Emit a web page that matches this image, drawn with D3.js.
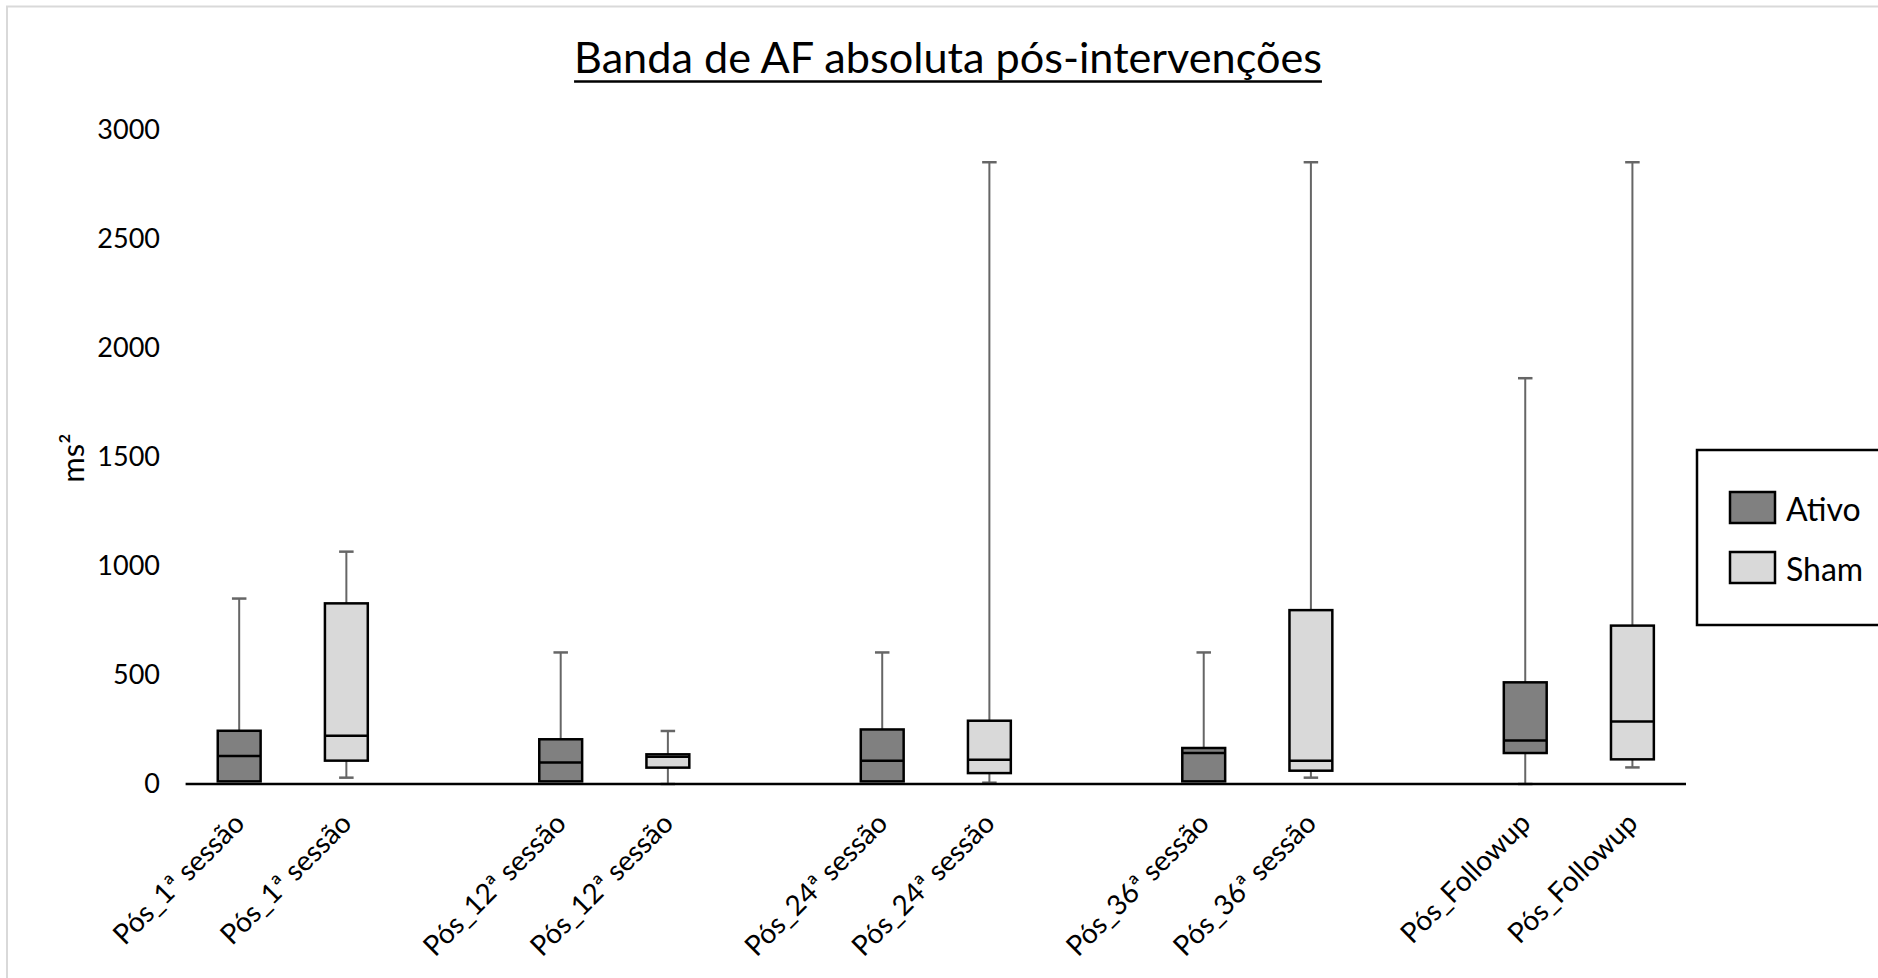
<!DOCTYPE html>
<html>
<head>
<meta charset="utf-8">
<script src="https://cdn.jsdelivr.net/npm/d3@7/dist/d3.min.js"></script>
<style>
  html, body { margin: 0; padding: 0; background: #fff; }
  svg { display: block; font-family: Lato, "Open Sans", sans-serif; }
</style>
</head>
<body>
<svg id="chart" width="1878" height="978"></svg>
<script>
// ---- data ----
const groups = ["Pós_1ª sessão", "Pós_12ª sessão", "Pós_24ª sessão", "Pós_36ª sessão", "Pós_Followup"];
const seriesNames = ["Ativo", "Sham"];
const seriesColors = ["#808080", "#d9d9d9"];

const ativoMin = [12, 12, 12, 12, 0];
const ativoQ1  = [12, 12, 12, 12, 142];
const ativoMed = [128, 98, 107, 142, 199];
const ativoQ3  = [244, 205, 250, 165, 466];
const ativoMax = [850, 603, 603, 603, 1860];

const shamMin = [29, 0, 6, 29, 76];
const shamQ1  = [107, 75, 50, 61, 113];
const shamMed = [221, 125, 111, 107, 286];
const shamQ3  = [828, 136, 290, 797, 726];
const shamMax = [1065, 243, 2850, 2850, 2850];

const yTicks = [0, 500, 1000, 1500, 2000, 2500, 3000];
const titleText = "Banda de AF absoluta pós-intervenções";
const yLabel = "ms²";

// ---- build rows ----
const stats = {
  Ativo: { min: ativoMin, q1: ativoQ1, med: ativoMed, q3: ativoQ3, max: ativoMax },
  Sham:  { min: shamMin,  q1: shamQ1,  med: shamMed,  q3: shamQ3,  max: shamMax }
};
const slots = [];
const boxes = [];
groups.forEach((g, gi) => {
  seriesNames.forEach((s, si) => {
    const key = g + "|" + s;
    slots.push(key);
    const st = stats[s];
    boxes.push({ key, label: g, series: s, color: seriesColors[si],
      min: st.min[gi], q1: st.q1[gi], med: st.med[gi], q3: st.q3[gi], max: st.max[gi] });
  });
  if (gi < groups.length - 1) slots.push("spacer" + gi);
});

const svg = d3.select("#chart");

// outer light border
svg.append("rect").attr("x", 7).attr("y", 6.5).attr("width", 1900).attr("height", 1000)
  .attr("fill", "none").attr("stroke", "#d9d9d9").attr("stroke-width", 2);

const plotLeft = 185.6, plotRight = 1686, yZero = 784, yTop = 129.5;
const x = d3.scaleBand().domain(slots).range([plotLeft, plotRight]).padding(0);
const y = d3.scaleLinear().domain([0, 3000]).range([yZero, yTop]);

// title
const title = svg.append("text").attr("x", 948).attr("y", 73)
  .attr("text-anchor", "middle").attr("font-size", 40).attr("fill", "#000").text(titleText);
let tw = title.node().getComputedTextLength();
title.attr("font-size", 40 * 748 / tw);
tw = title.node().getComputedTextLength();
svg.append("line").attr("x1", 948 - tw / 2).attr("x2", 948 + tw / 2)
  .attr("y1", 81.5).attr("y2", 81.5).attr("stroke", "#000").attr("stroke-width", 2.5);

// y axis (labels only)
const yAxis = d3.axisLeft(y).tickValues(yTicks).tickFormat(d3.format("d")).tickSize(0).tickPadding(0);
const yg = svg.append("g").attr("transform", "translate(160,0)").call(yAxis);
yg.select(".domain").remove();
yg.selectAll("text").attr("font-size", 27).attr("font-family", "Lato, sans-serif").attr("fill", "#000");

// y label
svg.append("text").attr("transform", "translate(84,458) rotate(-90)")
  .attr("text-anchor", "middle").attr("font-size", 31).attr("fill", "#000").text(yLabel);

// boxes
const bw = x.bandwidth() * 0.4;
const capW = 14.5;
const whiskerColor = "#666666";
const gBox = svg.append("g");
boxes.forEach(b => {
  const cx = x(b.key) + x.bandwidth() / 2;
  const g = gBox.append("g");
  if (b.max > b.q3) {
    g.append("line").attr("x1", cx).attr("x2", cx).attr("y1", y(b.q3)).attr("y2", y(b.max))
      .attr("stroke", whiskerColor).attr("stroke-width", 2);
    g.append("line").attr("x1", cx - capW / 2).attr("x2", cx + capW / 2).attr("y1", y(b.max)).attr("y2", y(b.max))
      .attr("stroke", whiskerColor).attr("stroke-width", 2.5);
  }
  if (b.min < b.q1) {
    g.append("line").attr("x1", cx).attr("x2", cx).attr("y1", y(b.q1)).attr("y2", y(b.min))
      .attr("stroke", whiskerColor).attr("stroke-width", 2);
    g.append("line").attr("x1", cx - capW / 2).attr("x2", cx + capW / 2).attr("y1", y(b.min)).attr("y2", y(b.min))
      .attr("stroke", whiskerColor).attr("stroke-width", 2.5);
  }
  g.append("rect").attr("x", cx - bw / 2).attr("y", y(b.q3)).attr("width", bw).attr("height", y(b.q1) - y(b.q3))
    .attr("fill", b.color).attr("stroke", "#000").attr("stroke-width", 2.5);
  g.append("line").attr("x1", cx - bw / 2).attr("x2", cx + bw / 2).attr("y1", y(b.med)).attr("y2", y(b.med))
    .attr("stroke", "#000").attr("stroke-width", 2.5);
});

// x axis line
svg.append("line").attr("x1", plotLeft).attr("x2", plotRight).attr("y1", yZero).attr("y2", yZero)
  .attr("stroke", "#000").attr("stroke-width", 2.5);

// x labels
const gx = svg.append("g");
boxes.forEach(b => {
  const cx = x(b.key) + x.bandwidth() / 2;
  gx.append("text").attr("transform", `translate(${cx + 7},${yZero + 41}) rotate(-45)`)
    .attr("text-anchor", "end").attr("font-size", 28).attr("fill", "#000").text(b.label);
});

// legend
svg.append("rect").attr("x", 1697).attr("y", 450).attr("width", 240).attr("height", 175)
  .attr("fill", "#fff").attr("stroke", "#000").attr("stroke-width", 2.5);
seriesNames.forEach((s, i) => {
  const yy = 492 + i * 60;
  svg.append("rect").attr("x", 1730).attr("y", yy).attr("width", 45).attr("height", 31)
    .attr("fill", seriesColors[i]).attr("stroke", "#000").attr("stroke-width", 2.5);
  svg.append("text").attr("x", 1786).attr("y", yy + 29).attr("font-size", 32).attr("fill", "#000").text(s);
});
</script>
</body>
</html>
